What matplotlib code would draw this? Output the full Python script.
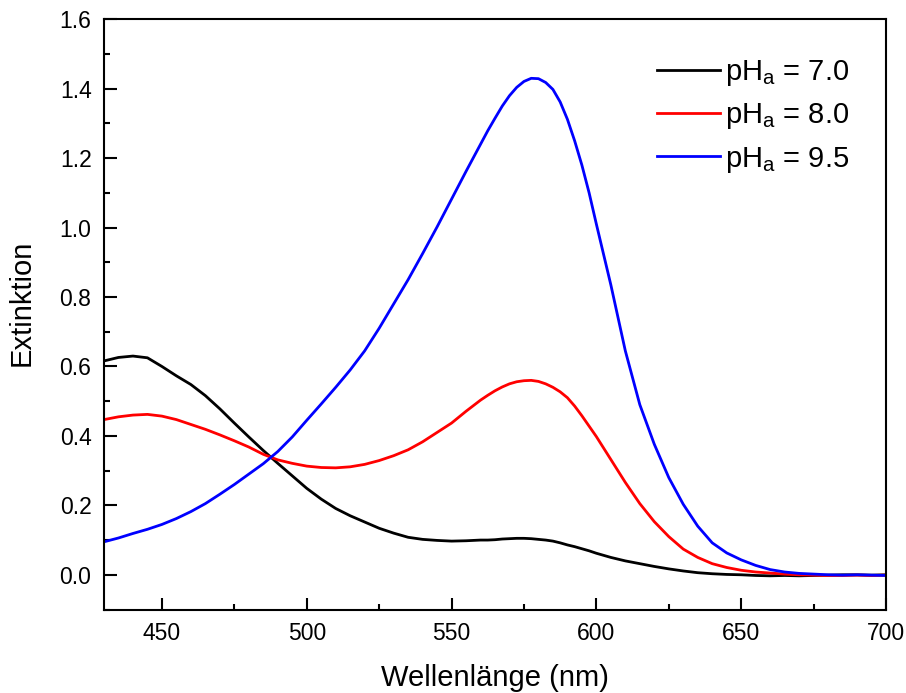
import matplotlib
matplotlib.use("Agg")
import matplotlib.pyplot as plt
from matplotlib.ticker import MultipleLocator, FormatStrFormatter

plt.rcParams['font.family'] = ['Liberation Sans', 'DejaVu Sans']
plt.rcParams['mathtext.fontset'] = 'custom'
plt.rcParams['mathtext.rm'] = 'Liberation Sans'
plt.rcParams['mathtext.it'] = 'Liberation Sans'
plt.rcParams['mathtext.default'] = 'regular'

wavelength = [430, 435, 440, 445, 450, 455, 460, 465, 470, 475, 480, 485, 490, 495,
              500, 505, 510, 515, 520, 525, 530, 535, 540, 545, 550, 555, 560, 562.5,
              565, 567.5, 570, 572.5, 575, 577.5, 580, 582.5, 585, 587.5, 590, 592.5,
              595, 597.5, 600, 605, 610, 615, 620, 625, 630, 635,
              640, 645, 650, 655, 660, 665, 670, 675, 680, 685, 690, 695, 700]

ext_ph70 = [0.616, 0.626, 0.630, 0.625, 0.600, 0.573, 0.548, 0.516, 0.478, 0.437,
            0.397, 0.358, 0.321, 0.285, 0.249, 0.218, 0.191, 0.170, 0.152, 0.134,
            0.120, 0.108, 0.102, 0.099, 0.097, 0.098, 0.100, 0.100,
            0.101, 0.103, 0.104, 0.105, 0.105, 0.104, 0.102, 0.100, 0.097, 0.092,
            0.086, 0.081, 0.075, 0.069, 0.062, 0.050, 0.040, 0.032, 0.024, 0.017,
            0.011, 0.006, 0.003, 0.001, 0.000, -0.002, -0.003, -0.002, -0.003, -0.002,
            -0.001, 0.000, 0.000, -0.001, 0.000]

ext_ph80 = [0.447, 0.455, 0.460, 0.462, 0.457, 0.447, 0.433, 0.419, 0.403, 0.386,
            0.368, 0.347, 0.331, 0.321, 0.313, 0.309, 0.308, 0.311, 0.318, 0.329,
            0.343, 0.360, 0.383, 0.410, 0.437, 0.471, 0.503, 0.517,
            0.530, 0.541, 0.550, 0.556, 0.559, 0.560, 0.557, 0.550, 0.540, 0.527,
            0.510, 0.486, 0.458, 0.428, 0.398, 0.332, 0.266, 0.205, 0.153, 0.110,
            0.074, 0.050, 0.032, 0.021, 0.013, 0.008, 0.005, 0.002, 0.000, -0.001,
            -0.002, -0.002, -0.001, -0.002, -0.001]

ext_ph95 = [0.095, 0.106, 0.119, 0.131, 0.145, 0.162, 0.182, 0.205, 0.232, 0.260,
            0.290, 0.320, 0.355, 0.397, 0.445, 0.492, 0.540, 0.590, 0.645, 0.710,
            0.780, 0.850, 0.925, 1.002, 1.082, 1.162, 1.240, 1.279,
            1.315, 1.350, 1.380, 1.404, 1.421, 1.430, 1.429, 1.418, 1.398, 1.362,
            1.312, 1.250, 1.180, 1.100, 1.010, 0.835, 0.645, 0.490, 0.376, 0.280,
            0.203, 0.140, 0.092, 0.063, 0.043, 0.027, 0.015, 0.008, 0.004, 0.002,
            0.000, -0.001, 0.000, -0.001, -0.002]

labels = ['pH$_a$ = 7.0', 'pH$_a$ = 8.0', 'pH$_a$ = 9.5']
colors = ['black', '#ff0000', '#0000ff']

fig = plt.figure(figsize=(9.06, 6.93), dpi=100)
ax = fig.add_axes([104/906, 1 - 609.5/693, 782/906, 590.2/693])

for y, lab, c in zip([ext_ph70, ext_ph80, ext_ph95], labels, colors):
    ax.plot(wavelength, y, color=c, lw=2.0, label=lab)

ax.set_xlim(430, 700)
ax.set_ylim(-0.1, 1.6)
ax.xaxis.set_major_locator(MultipleLocator(50))
ax.xaxis.set_minor_locator(MultipleLocator(25))
ax.yaxis.set_major_locator(MultipleLocator(0.2))
ax.yaxis.set_minor_locator(MultipleLocator(0.1))
ax.yaxis.set_major_formatter(FormatStrFormatter('%.1f'))

ax.tick_params(which='both', direction='in', top=False, right=False, width=1.5,
               labelsize=16.5, colors='black')
ax.tick_params(which='major', length=9, pad=9)
ax.tick_params(which='minor', length=4.5)
for s in ax.spines.values():
    s.set_linewidth(1.5)

ax.set_xlabel('Wellenlänge (nm)', fontsize=21, labelpad=14)
ax.set_ylabel('Extinktion', fontsize=21)
ax.yaxis.set_label_coords(-0.087, 0.52)

leg = ax.legend(loc='upper left', bbox_to_anchor=(0.707, 0.934), frameon=False,
                fontsize=21, handlelength=2.15, handletextpad=0.2,
                labelspacing=0.45, borderpad=0, borderaxespad=0)

fig.savefig('out.png', dpi=100)
